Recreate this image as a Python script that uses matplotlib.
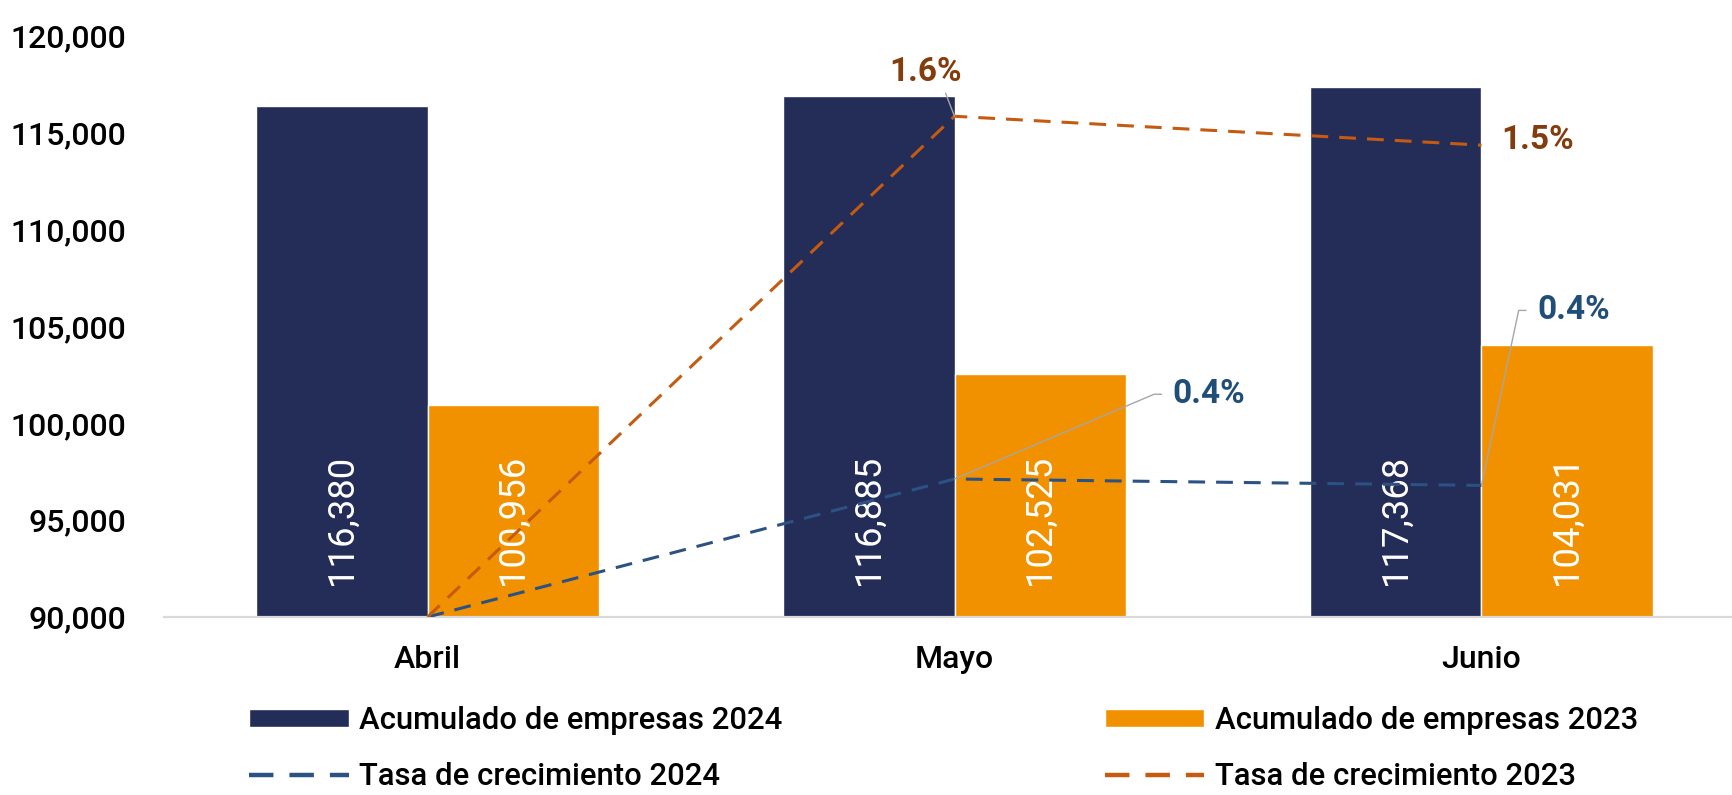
import matplotlib.pyplot as plt
import numpy as np
from matplotlib.ticker import FuncFormatter

# Data
meses = ["Abril", "Mayo", "Junio"]
empresas_2024 = [116380, 116885, 117368]
empresas_2023 = [100956, 102525, 104031]
tasa_2024 = [0, 0.43, 0.41]
tasa_2023 = [0, 1.56, 1.47]

plt.rcParams['font.family'] = ['Roboto', 'DejaVu Sans']

navy = "#242C58"
orange = "#F29100"
line_blue = "#2B5283"
line_orange = "#C55A11"
txt_blue = "#1F4E79"
txt_brown = "#843C0C"

fig = plt.figure(figsize=(17.32, 7.95), dpi=100)
ax = fig.add_axes([0.0947, 0.2239, 0.9128, 0.7308])

x = np.arange(len(meses))
w = 0.325
bars24 = ax.bar(x - w / 2, empresas_2024, w, color=navy, edgecolor="white", linewidth=1,
                label="Acumulado de empresas 2024")
bars23 = ax.bar(x + w / 2, empresas_2023, w, color=orange, edgecolor="white", linewidth=1,
                label="Acumulado de empresas 2023")

# Value labels inside the bars, near the base
for bars, vals in [(bars24, empresas_2024), (bars23, empresas_2023)]:
    for b, v in zip(bars, vals):
        ax.annotate(f"{v:,}", (b.get_x() + b.get_width() / 2, 90000),
                    xytext=(0, 23), textcoords="offset points", rotation=90,
                    ha="center", va="bottom", color="white", fontsize=26.3)

ax.set_xlim(-0.5, 2.5)
ax.set_ylim(90000, 120000)
ax.set_yticks(np.arange(90000, 120001, 5000))
ax.yaxis.set_major_formatter(FuncFormatter(lambda v, p: f"{v:,.0f}"))
ax.set_xticks(x)
ax.set_xticklabels(meses)
ax.tick_params(axis="y", length=0, pad=27, labelsize=23)
ax.tick_params(axis="x", length=0, pad=20, labelsize=23)
for lab in ax.get_xticklabels() + ax.get_yticklabels():
    lab.set_fontweight("medium")
for s in ["top", "right", "left"]:
    ax.spines[s].set_visible(False)
ax.spines["bottom"].set_color("#D9D9D9")
ax.spines["bottom"].set_linewidth(1.6)

# Growth rates on hidden secondary axis
ax2 = ax.twinx()
ax2.set_ylim(0, 1.81)
ax2.axis("off")
l24, = ax2.plot(x, tasa_2024, color=line_blue, lw=2.2, ls=(0, (5.5, 3.6)),
                label="Tasa de crecimiento 2024")
l23, = ax2.plot(x, tasa_2023, color=line_orange, lw=2.2, ls=(0, (5.5, 3.6)),
                label="Tasa de crecimiento 2023")

lead = dict(arrowstyle="-", color="#A6A6A6", lw=1)
ax2.annotate(f"{tasa_2023[1]:.1f}%", (x[1], tasa_2023[1]), xytext=(-21, 32),
             textcoords="offset points", ha="center", va="center", color=txt_brown,
             fontsize=24, fontweight="bold",
             arrowprops=dict(lead, relpos=(0.75, 0), shrinkA=2, shrinkB=0))
ax2.annotate(f"{tasa_2023[2]:.1f}%", (x[2], tasa_2023[2]), xytext=(14, 4),
             textcoords="offset points", ha="left", va="center", color=txt_brown,
             fontsize=24, fontweight="bold")
ax2.annotate(f"{tasa_2024[1]:.1f}%", (x[1], tasa_2024[1]), xytext=(157, 61),
             textcoords="offset points", ha="left", va="center", color=txt_blue,
             fontsize=24, fontweight="bold",
             arrowprops=dict(lead, relpos=(0, 0.5), shrinkA=6, shrinkB=0,
                             connectionstyle="angle,angleA=0,angleB=23,rad=0"))
ax2.annotate(f"{tasa_2024[2]:.1f}%", (x[2], tasa_2024[2]), xytext=(40, 126),
             textcoords="offset points", ha="left", va="center", color=txt_blue,
             fontsize=24, fontweight="bold",
             arrowprops=dict(lead, relpos=(0, 0.5), shrinkA=6, shrinkB=0,
                             connectionstyle="angle,angleA=0,angleB=78,rad=0"))

# Legend
leg = fig.legend([bars24, l24, bars23, l23],
                 ["Acumulado de empresas 2024", "Tasa de crecimiento 2024",
                  "Acumulado de empresas 2023", "Tasa de crecimiento 2023"],
                 ncol=2, loc="upper left", bbox_to_anchor=(0.144, 0.112),
                 frameon=False, fontsize=22.3, handlelength=3.2, handleheight=0.55,
                 handletextpad=0.35, columnspacing=10.4, labelspacing=0.88,
                 borderpad=0, borderaxespad=0)
for t in leg.get_texts():
    t.set_fontweight("medium")
for h in leg.get_lines():
    h.set_linewidth(3.2)

fig.savefig("out.png", dpi=100)
